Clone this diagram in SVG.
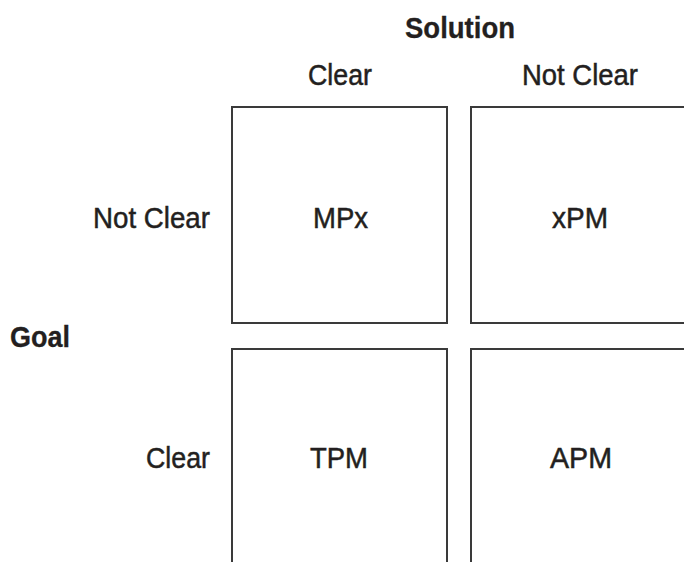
<svg xmlns="http://www.w3.org/2000/svg" width="684" height="562" viewBox="0 0 684 562">
<style>
.box{fill:#fff;stroke:#3a3a3a;stroke-width:2}
text{font-family:"Liberation Sans",Arial,sans-serif;font-size:30px;fill:#231f20;stroke:#231f20;stroke-width:0.5}
.b{font-weight:bold;stroke-width:0.3}
</style>
<rect width="684" height="562" fill="#fff"/>
<g id="headers">
<text class="b" x="405" y="38" textLength="110" lengthAdjust="spacingAndGlyphs">Solution</text>
<text x="308" y="85" textLength="64" lengthAdjust="spacingAndGlyphs">Clear</text>
<text x="522" y="85" textLength="116" lengthAdjust="spacingAndGlyphs">Not Clear</text>
<text class="b" x="10" y="347" textLength="60" lengthAdjust="spacingAndGlyphs">Goal</text>
<text x="93" y="228" textLength="117" lengthAdjust="spacingAndGlyphs">Not Clear</text>
<text x="146" y="468" textLength="64" lengthAdjust="spacingAndGlyphs">Clear</text>
</g>
<g id="node-mpx">
<rect class="box" x="232" y="107" width="215" height="216"/>
<text x="313" y="228" textLength="55" lengthAdjust="spacingAndGlyphs">MPx</text>
</g>
<g id="node-xpm">
<rect class="box" x="471" y="107" width="230" height="216"/>
<text x="552" y="228" textLength="56" lengthAdjust="spacingAndGlyphs">xPM</text>
</g>
<g id="node-tpm">
<rect class="box" x="232" y="349" width="215" height="240"/>
<text x="310" y="468" textLength="58" lengthAdjust="spacingAndGlyphs">TPM</text>
</g>
<g id="node-apm">
<rect class="box" x="471" y="349" width="230" height="240"/>
<text x="550" y="468" textLength="62" lengthAdjust="spacingAndGlyphs">APM</text>
</g>
<g id="connectors"></g>
</svg>
